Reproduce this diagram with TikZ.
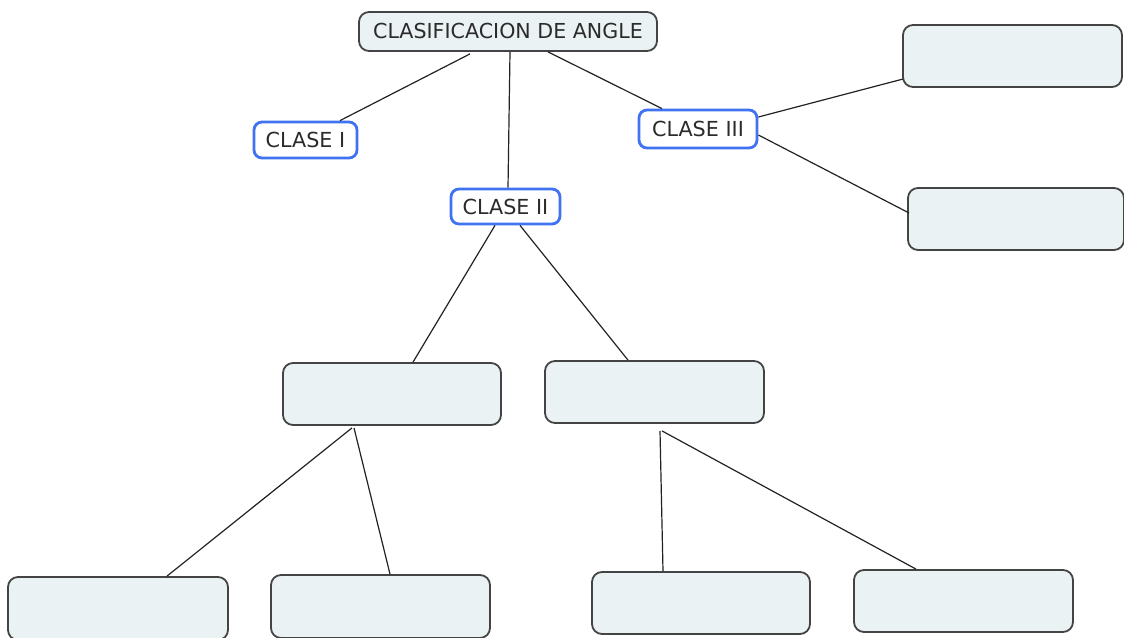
\documentclass[tikz,border=0pt]{standalone}
\usepackage{xcolor}
\usepackage{fontspec}
\usepackage{tikz}
\usetikzlibrary{positioning}
\setmainfont{DejaVu Sans}
\definecolor{boxfill}{HTML}{EAF2F4}
\definecolor{boxline}{HTML}{444444}
\definecolor{classline}{HTML}{3F73F2}
\definecolor{linkline}{HTML}{222222}
\definecolor{textgray}{HTML}{2B2B2B}

\begin{document}
\begin{tikzpicture}[x=1pt, y=-1pt]
    \tikzstyle{concept} = [rectangle, draw=boxline, fill=boxfill, line width=1.8pt, rounded corners=10pt, inner sep=0pt, minimum width=218pt, minimum height=62pt]
    \tikzstyle{clase} = [rectangle, draw=classline, fill=white, line width=2.8pt, rounded corners=8pt, inner sep=0pt, text=textgray, font=\fontsize{20.7}{24}\selectfont]
    \tikzstyle{link} = [draw=linkline, line width=1.2pt]

    \useasboundingbox (0,0) rectangle (1124,637);

    \node (angle) [concept, minimum width=298pt, minimum height=39pt, text=textgray, font=\fontsize{20.6}{24}\selectfont] at (508,31.5) {CLASIFICACION DE ANGLE};
    \node (claseI) [clase, minimum width=103pt, minimum height=36pt] at (305.5,140) {CLASE I};
    \node (claseII) [clase, minimum width=109pt, minimum height=35pt] at (505.5,206.5) {CLASE II};
    \node (claseIII) [clase, minimum width=118pt, minimum height=38pt] at (698,129) {CLASE III};

    \node (rtop) [concept, minimum width=219pt] at (1012.5,56) {};
    \node (rlow) [concept, minimum width=216pt] at (1016,219) {};
    \node (midleft) [concept] at (392,394) {};
    \node (midright) [concept, minimum width=219pt] at (654.5,392) {};
    \node (bot1) [concept, minimum width=220pt, minimum height=63pt] at (118,608.5) {};
    \node (bot2) [concept, minimum width=219pt, minimum height=63pt] at (380.5,606.5) {};
    \node (bot3) [concept] at (701,603) {};
    \node (bot4) [concept, minimum width=219pt] at (963.5,601) {};

    \draw [link] ([xshift=-38pt,yshift=-2pt]angle.south) -- ([xshift=34.5pt]claseI.north);
    \draw [link] ([xshift=2pt]angle.south) -- ([xshift=2.5pt]claseII.north);
    \draw [link] ([xshift=40pt]angle.south) -- ([xshift=-36pt]claseIII.north);
    \draw [link] ([yshift=12pt]claseIII.east) -- ([yshift=-23pt,xshift=1pt]rtop.west);
    \draw [link] ([yshift=-6pt]claseIII.east) -- ([yshift=6pt,xshift=2pt]rlow.west);
    \draw [link] ([xshift=-10.5pt]claseII.south) -- ([xshift=21pt]midleft.north);
    \draw [link] ([xshift=14.5pt]claseII.south) -- ([xshift=-26.5pt]midright.north);
    \draw [link] ([xshift=-40pt,yshift=-2pt]midleft.south) -- ([xshift=49pt]bot1.north);
    \draw [link] ([xshift=-38pt,yshift=-2pt]midleft.south) -- ([xshift=9.5pt]bot2.north);
    \draw [link] ([xshift=5.5pt,yshift=-7pt]midright.south) -- ([xshift=-38pt]bot3.north);
    \draw [link] ([xshift=7.5pt,yshift=-7pt]midright.south) -- ([xshift=-47.5pt]bot4.north);
\end{tikzpicture}
\end{document}
